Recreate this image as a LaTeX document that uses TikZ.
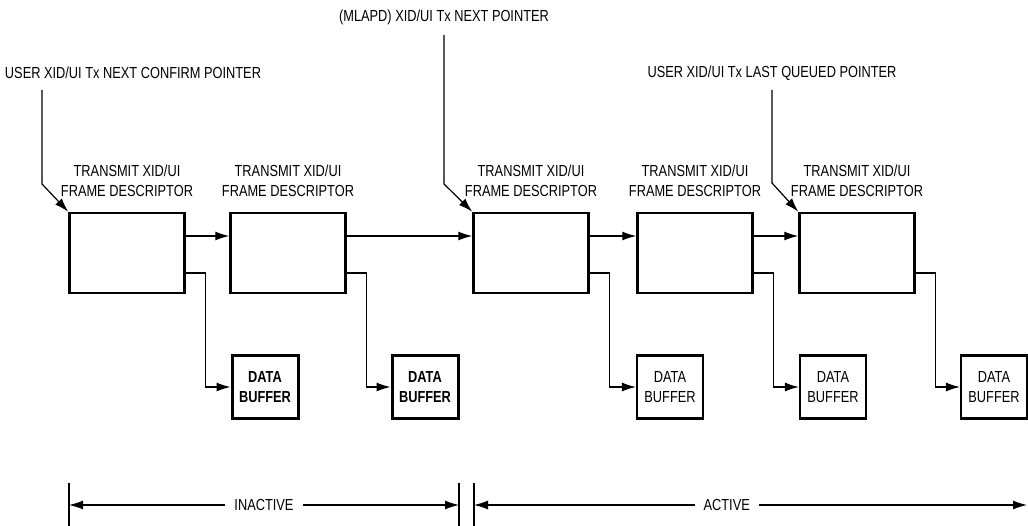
\documentclass[tikz,border=0pt]{standalone}
\usepackage{fontspec}
\setmainfont{Liberation Sans}[FakeStretch=0.8]
\usetikzlibrary{arrows.meta}

\begin{document}
\begin{tikzpicture}[x=1pt, y=-1pt,
  fd/.style={draw, line width=2.5pt, minimum width=115pt, minimum height=80pt, inner sep=0pt},
  buf/.style={draw, line width=2.2pt, minimum width=66pt, minimum height=63pt, inner sep=0pt,
    align=center, font=\fontsize{16}{20}\selectfont},
  oldbuf/.style={buf, line width=3pt, font=\fontsize{16}{20}\selectfont\bfseries},
  lbl/.style={align=center, inner sep=0pt, font=\fontsize{16}{20}\selectfont},
  link/.style={line width=1.2pt, -{Latex[length=14pt,width=9pt]}},
  span/.style={line width=1.2pt, {Latex[length=14pt,width=9pt]}-{Latex[length=14pt,width=9pt]}}]

  \useasboundingbox (0,0) rectangle (1028,526);

  % frame descriptors
  \node[fd] (fd1) at (127,253) {};
  \node[fd] (fd2) at (288,253) {};
  \node[fd] (fd3) at (531,253) {};
  \node[fd] (fd4) at (695,253) {};
  \node[fd] (fd5) at (857,253) {};
  \node[lbl] (lab1) at (127,181) {TRANSMIT XID/UI\\FRAME DESCRIPTOR};
  \node[lbl] (lab2) at (288,181) {TRANSMIT XID/UI\\FRAME DESCRIPTOR};
  \node[lbl] (lab3) at (531,181) {TRANSMIT XID/UI\\FRAME DESCRIPTOR};
  \node[lbl] (lab4) at (695,181) {TRANSMIT XID/UI\\FRAME DESCRIPTOR};
  \node[lbl] (lab5) at (857,181) {TRANSMIT XID/UI\\FRAME DESCRIPTOR};

  % data buffers
  \node[oldbuf] (buf1) at (265,387) {DATA\\BUFFER};
  \node[oldbuf] (buf2) at (425,387) {DATA\\BUFFER};
  \node[buf] (buf3) at (670,387) {DATA\\BUFFER};
  \node[buf] (buf4) at (833,387) {DATA\\BUFFER};
  \node[buf] (buf5) at (994,387) {DATA\\BUFFER};

  % chain
  \draw[link] ([yshift=17pt]fd1.east) -- ([yshift=17pt]fd2.west);
  \draw[link] ([yshift=17pt]fd2.east) -- ([yshift=17pt]fd3.west);
  \draw[link] ([yshift=17pt]fd3.east) -- ([yshift=17pt]fd4.west);
  \draw[link] ([yshift=17pt]fd4.east) -- ([yshift=17pt]fd5.west);
  \draw[link] ([yshift=-20pt]fd1.east) -- ++(20,0) |- (buf1.west);
  \draw[link] ([yshift=-20pt]fd2.east) -- ++(20,0) |- (buf2.west);
  \draw[link] ([yshift=-20pt]fd3.east) -- ++(20,0) |- (buf3.west);
  \draw[link] ([yshift=-20pt]fd4.east) -- ++(20,0) |- (buf4.west);
  \draw[link] ([yshift=-20pt]fd5.east) -- ++(20,0) |- (buf5.west);

  % pointers
  \node[lbl] (ptr1) at (133,73) {USER XID/UI Tx NEXT CONFIRM POINTER};
  \node[lbl] (ptr2) at (444,17) {(MLAPD) XID/UI Tx NEXT POINTER};
  \node[lbl] (ptr3) at (772,73) {USER XID/UI Tx LAST QUEUED POINTER};
  \coordinate (ptr1top) at (42,90);
  \coordinate (ptr2top) at (444,35);
  \coordinate (ptr3top) at (772,90);
  \draw[link] (ptr1top) -- ++(0,94) -- (fd1.north west);
  \draw[link] (ptr2top) -- ++(0,149) -- (fd3.north west);
  \draw[link] (ptr3top) -- ++(0,93) -- (fd5.north west);

  % inactive / active spans
  \coordinate (inL) at (69,505);
  \coordinate (inR) at (459,505);
  \coordinate (acL) at (474,505);
  \coordinate (acR) at (1027,505);
  \draw[line width=1.2pt] ([yshift=22pt]inL) -- ([yshift=-25pt]inL);
  \draw[line width=1.2pt] ([yshift=22pt]inR) -- ([yshift=-25pt]inR);
  \draw[line width=1.2pt] ([yshift=22pt]acL) -- ([yshift=-25pt]acL);
  \draw[span] (inL) -- node[lbl, fill=white, inner xsep=9pt] (inact) {INACTIVE} (inR);
  \draw[span] (acL) -- node[lbl, fill=white, inner xsep=9pt, pos=0.457] (act) {ACTIVE} (acR);
\end{tikzpicture}
\end{document}
